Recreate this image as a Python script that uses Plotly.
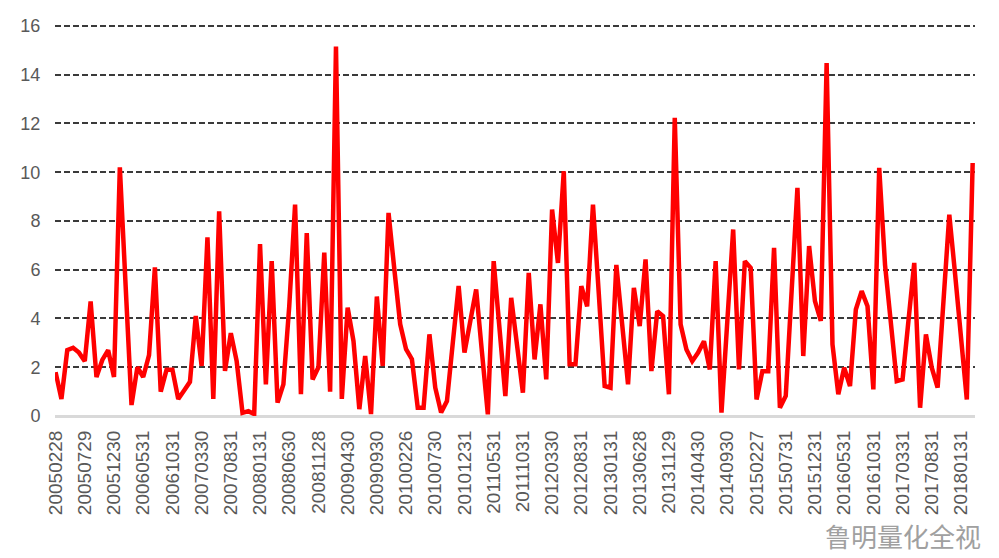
import pandas as pd
import plotly.graph_objects as go

LINE_RED = '#FF0000'
TEXT_GREY = '#595959'
GRID_COLOR = '#3a3a3a'
BASE_COLOR = '#D9D9D9'

# monthly observations, 2005-02 .. 2018-03
MONTHS = [str(p) for p in pd.period_range('2005-02', '2018-03', freq='M')]

VALUES = [
    1.8, 0.7, 2.7, 2.8, 2.6, 2.25, 4.7, 1.6, 2.3, 2.7,
    1.6, 10.2, 5.3, 0.45, 2.0, 1.6, 2.5, 6.1, 1.0, 1.9,
    1.9, 0.7, 1.05, 1.4, 4.1, 2.05, 7.33, 0.7, 8.4, 1.85,
    3.4, 2.25, 0.13, 0.2, 0.08, 7.05, 1.3, 6.35, 0.55, 1.3,
    4.5, 8.67, 0.9, 7.5, 1.5, 2.0, 6.7, 1.0, 15.16, 0.7,
    4.44, 3.07, 0.28, 2.46, 0.08, 4.9, 2.05, 8.33, 6.0, 3.76,
    2.74, 2.33, 0.34, 0.34, 3.35, 1.16, 0.14, 0.61, 3.0, 5.33,
    2.6, 3.9, 5.19, 2.6, 0.07, 6.35, 3.6, 0.82, 4.85, 2.9,
    0.96, 5.87, 2.32, 4.58, 1.5, 8.47, 6.28, 10.04, 2.12, 2.12,
    5.33, 4.5, 8.67, 5.0, 1.23, 1.16, 6.2, 3.75, 1.3, 5.26,
    3.69, 6.42, 1.84, 4.3, 4.1, 0.89, 12.23, 3.76, 2.73, 2.25,
    2.6, 3.07, 1.91, 6.35, 0.14, 3.9, 7.65, 1.91, 6.35, 6.08,
    0.68, 1.84, 1.84, 6.9, 0.34, 0.82, 5.1, 9.36, 2.46, 6.97,
    4.71, 3.9, 14.48, 2.94, 0.89, 1.98, 1.23, 4.37, 5.12, 4.5,
    1.09, 10.18, 6.2, 3.6, 1.43, 1.5, 3.9, 6.28, 0.34, 3.35,
    1.98, 1.16, 4.7, 8.26, 5.8, 3.2, 0.68, 10.38,
]

TICK_LABELS = [
    '20050228', '20050729', '20051230', '20060531', '20061031', '20070330',
    '20070831', '20080131', '20080630', '20081128', '20090430', '20090930',
    '20100226', '20100730', '20101231', '20110531', '20111031', '20120330',
    '20120831', '20130131', '20130628', '20131129', '20140430', '20140930',
    '20150227', '20150731', '20151231', '20160531', '20161031', '20170331',
    '20170831', '20180131',
]

Y_TICKS = [0, 2, 4, 6, 8, 10, 12, 14, 16]

fig = go.Figure(
    go.Scatter(
        x=MONTHS,
        y=VALUES,
        mode='lines',
        line={'color': LINE_RED, 'width': 4.5},
        hoverinfo='x+y',
    )
)

fig.update_layout(
    width=999,
    height=558,
    margin={'l': 55, 'r': 24, 't': 24, 'b': 142},
    plot_bgcolor='white',
    paper_bgcolor='white',
    showlegend=False,
    font={'family': 'Liberation Sans, Arial, sans-serif', 'color': TEXT_GREY},
    xaxis={
        'type': 'category',
        'range': [-0.1, len(MONTHS) - 0.6],
        'tickmode': 'array',
        'tickvals': MONTHS[::5],
        'ticktext': TICK_LABELS,
        'tickangle': -90,
        'tickfont': {'size': 19},
        'showgrid': False,
        'showline': False,
        'ticks': 'outside',
        'ticklen': 6,
        'tickcolor': 'rgba(0,0,0,0)',
        'fixedrange': True,
    },
    yaxis={
        'range': [0, 16.08],
        'tickmode': 'array',
        'tickvals': Y_TICKS,
        'tickfont': {'size': 18},
        'showgrid': True,
        'gridcolor': GRID_COLOR,
        'gridwidth': 1.5,
        'griddash': '6px,3px',
        'zeroline': True,
        'zerolinecolor': BASE_COLOR,
        'zerolinewidth': 2.5,
        'ticks': 'outside',
        'ticklen': 10,
        'tickcolor': 'rgba(0,0,0,0)',
        'fixedrange': True,
    },
)

# watermark in the bottom-right corner
fig.add_annotation(
    x=0.835, y=-0.305, xref='paper', yref='paper',
    xanchor='left', yanchor='middle',
    text='鲁明量化全视',
    showarrow=False,
    font={'family': 'Noto Sans CJK SC', 'size': 26, 'color': '#a0a0a0'},
)

fig.write_html(
    'out.html',
    config={'displayModeBar': False},
    post_script="document.body.style.margin='0';",
)
